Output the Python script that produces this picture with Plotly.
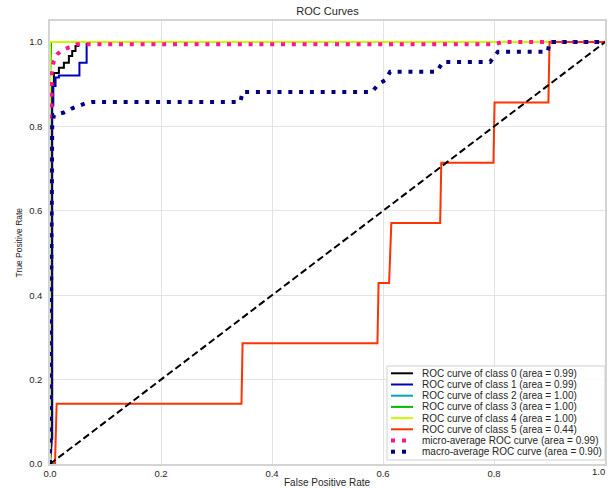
import plotly.graph_objects as go

# ROC points (false positive rate, true positive rate) per class
class_labels = ["0", "1", "2", "3", "4", "5"]
class_auc = [0.99, 0.99, 1.00, 1.00, 1.00, 0.44]

fpr_0 = [0.0, 0.0, 0.004, 0.004, 0.007, 0.007, 0.016, 0.016, 0.025, 0.025,
         0.034, 0.034, 0.040, 0.040, 0.046, 0.046, 0.051, 0.051, 1.0]
tpr_0 = [0.0, 0.06, 0.06, 0.90, 0.90, 0.927, 0.927, 0.939, 0.939, 0.951,
         0.951, 0.967, 0.967, 0.979, 0.979, 0.991, 0.991, 1.0, 1.0]

fpr_1 = [0.0, 0.003, 0.003, 0.006, 0.006, 0.010, 0.010, 0.016, 0.016,
         0.053, 0.053, 0.066, 0.066, 1.0]
tpr_1 = [0.0, 0.05, 0.85, 0.85, 0.896, 0.896, 0.916, 0.916, 0.921,
         0.921, 0.951, 0.951, 1.0, 1.0]

fpr_2 = [0.0, 0.0, 0.0, 1.0]
tpr_2 = [0.0, 0.5, 1.0, 1.0]

fpr_3 = [0.0, 0.0, 0.002, 1.0]
tpr_3 = [0.0, 0.9, 1.0, 1.0]

fpr_4 = [0.0, 0.0, 1.0]
tpr_4 = [0.0, 1.0, 1.0]

fpr_5 = [0.0, 0.009, 0.012, 0.345, 0.347, 0.590, 0.592, 0.611, 0.615,
         0.703, 0.705, 0.799, 0.801, 0.898, 0.900, 1.0]
tpr_5 = [0.0, 0.0, 0.143, 0.143, 0.286, 0.286, 0.429, 0.429, 0.571,
         0.571, 0.714, 0.714, 0.857, 0.857, 1.0, 1.0]

fpr_micro = [0.0, 0.002, 0.003, 0.007, 0.013, 0.022, 0.031, 0.049, 0.80, 0.815, 1.0]
tpr_micro = [0.0, 0.50, 0.935, 0.955, 0.971, 0.981, 0.986, 0.995, 0.995, 1.0, 1.0]
auc_micro = 0.99

fpr_macro = [0.0, 0.004, 0.007, 0.016, 0.025, 0.040, 0.049, 0.064, 0.076,
             0.343, 0.347, 0.580, 0.592, 0.604, 0.613, 0.697, 0.708,
             0.793, 0.807, 0.897, 0.900, 1.0]
tpr_macro = [0.0, 0.80, 0.827, 0.831, 0.833, 0.843, 0.848, 0.855, 0.858,
             0.858, 0.882, 0.882, 0.900, 0.910, 0.930, 0.930, 0.953,
             0.953, 0.977, 0.977, 1.0, 1.0]
auc_macro = 0.90

fpr_classes = [fpr_0, fpr_1, fpr_2, fpr_3, fpr_4, fpr_5]
tpr_classes = [tpr_0, tpr_1, tpr_2, tpr_3, tpr_4, tpr_5]

# nipy_spectral samples for six classes
class_colors = ["#000000", "#0000BB", "#00A4BB", "#00BB00", "#CCF900", "#FF3300"]
micro_color = "#FF1493"
macro_color = "#000080"

tick_vals = [0.0, 0.2, 0.4, 0.6, 0.8, 1.0]
tick_text = ["0.0", "0.2", "0.4", "0.6", "0.8", "1.0"]

FONT = "Liberation Sans, Arial, sans-serif"
TEXT = "#262626"
W, H = 608, 488
ML, MR, MT, MB = 50, 3, 21, 24
PW, PH = W - ML - MR, H - MT - MB

fig = go.Figure()

legend_entries = []
for lab, auc, xs, ys, col in zip(class_labels, class_auc, fpr_classes, tpr_classes, class_colors):
    name = f"ROC curve of class {lab} (area = {auc:.2f})"
    fig.add_trace(go.Scatter(x=xs, y=ys, mode="lines", name=name,
                             line=dict(color=col, width=2), showlegend=False))
    legend_entries.append((name, col, "solid", 2))

micro_name = f"micro-average ROC curve (area = {auc_micro:.2f})"
fig.add_trace(go.Scatter(x=fpr_micro, y=tpr_micro, mode="lines", name=micro_name,
                         line=dict(color=micro_color, width=4, dash="4px,6.8px"),
                         showlegend=False))
legend_entries.append((micro_name, micro_color, "4px,6.8px", 4))

macro_name = f"macro-average ROC curve (area = {auc_macro:.2f})"
fig.add_trace(go.Scatter(x=fpr_macro, y=tpr_macro, mode="lines", name=macro_name,
                         line=dict(color=macro_color, width=4, dash="4px,6.8px"),
                         showlegend=False))
legend_entries.append((macro_name, macro_color, "4px,6.8px", 4))

# chance diagonal
fig.add_trace(go.Scatter(x=[0, 1], y=[0, 1], mode="lines", showlegend=False,
                         line=dict(color="#000000", width=2, dash="7px,3.5px")))


def px_x(p):
    return (p - ML) / PW


def px_y(p):
    return (H - MB - p) / PH


# legend box drawn in paper space, lower right
box_l, box_r, box_t, box_b = 387, 605, 366, 460
fig.add_shape(type="rect", xref="paper", yref="paper",
              x0=px_x(box_l), x1=px_x(box_r), y0=px_y(box_b), y1=px_y(box_t),
              line=dict(color="#d0d0d0", width=1), fillcolor="rgba(255,255,255,0.85)",
              layer="above")
row0, row_step = 373.3, 11.2
for i, (name, col, dash, lw) in enumerate(legend_entries):
    yy = px_y(row0 + i * row_step)
    if dash == "solid":
        fig.add_shape(type="line", xref="paper", yref="paper",
                      x0=px_x(391), x1=px_x(413), y0=yy, y1=yy,
                      line=dict(color=col, width=lw), layer="above")
    else:
        for sx in (391, 402):
            fig.add_shape(type="line", xref="paper", yref="paper",
                          x0=px_x(sx), x1=px_x(sx + 4), y0=yy, y1=yy,
                          line=dict(color=col, width=lw), layer="above")
    fig.add_annotation(x=px_x(420), y=yy, xref="paper", yref="paper",
                       text=name, showarrow=False, xanchor="left", yanchor="middle",
                       font=dict(family=FONT, size=10, color=TEXT))

# the last x tick label sits at the right page edge, so it is right-aligned there
x_ticktext = tick_text[:-1] + [""]
fig.add_annotation(x=1.0, y=px_y(471), xref="paper", yref="paper",
                   text=tick_text[-1], showarrow=False, xanchor="right",
                   yanchor="middle", xshift=2,
                   font=dict(family=FONT, size=9.5, color=TEXT))

# axis titles
fig.add_annotation(x=0.5, y=px_y(482), xref="paper", yref="paper",
                   text="False Positive Rate", showarrow=False,
                   xanchor="center", yanchor="middle",
                   font=dict(family=FONT, size=10, color=TEXT))
fig.add_annotation(x=px_x(18), y=0.5, xref="paper", yref="paper",
                   text="True Positive Rate", showarrow=False, textangle=-90,
                   xanchor="center", yanchor="middle",
                   font=dict(family=FONT, size=8.5, color=TEXT))

axis_common = dict(
    tickvals=tick_vals, showgrid=True, gridcolor="#e3e3e3",
    gridwidth=1, zeroline=False, showline=True, mirror=True,
    linecolor="#d4d4d4", linewidth=1.5, ticks="",
    tickfont=dict(family=FONT, size=9.5, color=TEXT),
)

fig.update_layout(
    width=W, height=H,
    margin=dict(l=ML, r=MR, t=MT, b=MB, autoexpand=False),
    paper_bgcolor="white", plot_bgcolor="white",
    title=dict(text="ROC Curves", x=(ML + PW / 2) / W, xanchor="center",
               y=1 - 11 / H, yanchor="middle", yref="container",
               font=dict(family=FONT, size=11, color=TEXT)),
    xaxis=dict(range=[0, 1], ticktext=x_ticktext, ticklabelstandoff=0, **axis_common),
    yaxis=dict(range=[0, 1.05], ticktext=tick_text, ticklabelstandoff=4, **axis_common),
    showlegend=False,
)

fig.write_html("out.html")
